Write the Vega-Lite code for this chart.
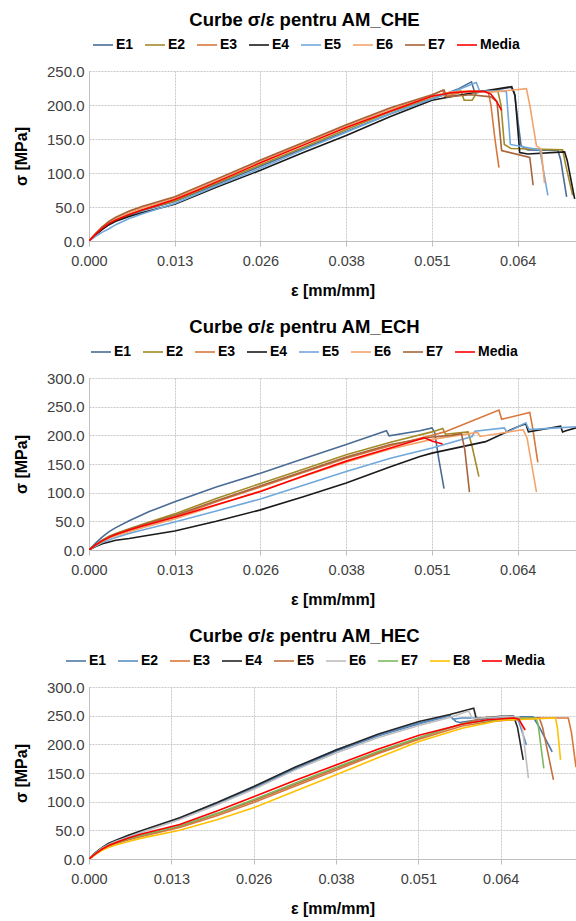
{
"$schema": "https://vega.github.io/schema/vega-lite/v6.json",
"padding": {"left": 13, "top": 10, "right": 0, "bottom": 0},
"spacing": 18,
"config": {
  "font": "Liberation Sans",
  "view": {"stroke": null},
  "axis": {"labelFont": "Liberation Sans", "labelFontSize": 14.5, "labelColor": "#404040", "titleFont": "Liberation Sans", "titleFontSize": 16, "titleFontWeight": "bold", "titleColor": "#000000", "gridColor": "#c8c8c8", "gridDash": [2, 1], "gridWidth": 1, "domainColor": "#bfbfbf", "tickColor": "#bfbfbf"},
  "axisX": {"tickSize": 5, "labelPadding": 8, "titlePadding": 15, "labelFlush": false},
  "axisY": {"ticks": false, "labelPadding": 5, "titlePadding": 17, "labelFontSize": 15},
  "legend": {"labelFont": "Liberation Sans", "labelFontSize": 14, "labelFontWeight": "bold", "labelColor": "#000000", "symbolType": "stroke", "symbolSize": 400, "symbolStrokeWidth": 2, "labelOffset": 2, "columnPadding": 7, "direction": "horizontal", "orient": "none", "title": null},
  "title": {"font": "Liberation Sans", "fontSize": 18.5, "fontWeight": "bold", "color": "#000000", "anchor": "middle", "frame": "group", "dx": -28, "offset": 5}
},
"resolve": {"scale": {"color": "independent", "x": "independent", "y": "independent", "strokeWidth": "independent"}, "legend": {"color": "independent"}},
"vconcat": [
{
  "title": {"text": "Curbe σ/ε pentru AM_CHE"},
  "width": 487, "height": 170,
  "data": {"values": [
    {"s":"E1","x":0,"y":0},{"s":"E1","x":0.001,"y":9},{"s":"E1","x":0.002,"y":18},{"s":"E1","x":0.003,"y":25},{"s":"E1","x":0.004,"y":30},{"s":"E1","x":0.006,"y":38},{"s":"E1","x":0.008,"y":45},{"s":"E1","x":0.0128,"y":58},{"s":"E1","x":0.019,"y":83},{"s":"E1","x":0.0256,"y":110},{"s":"E1","x":0.032,"y":136},{"s":"E1","x":0.0384,"y":161},{"s":"E1","x":0.045,"y":187},{"s":"E1","x":0.0512,"y":209},{"s":"E1","x":0.055,"y":223},{"s":"E1","x":0.0571,"y":234},{"s":"E1","x":0.0576,"y":218},{"s":"E1","x":0.06,"y":221},{"s":"E1","x":0.063,"y":226},{"s":"E1","x":0.0635,"y":218},{"s":"E1","x":0.0645,"y":140},{"s":"E1","x":0.0655,"y":134},{"s":"E1","x":0.07,"y":133},{"s":"E1","x":0.0704,"y":120},{"s":"E1","x":0.0713,"y":65},
    {"s":"E2","x":0,"y":0},{"s":"E2","x":0.001,"y":10},{"s":"E2","x":0.002,"y":19},{"s":"E2","x":0.003,"y":26},{"s":"E2","x":0.004,"y":31},{"s":"E2","x":0.006,"y":39},{"s":"E2","x":0.008,"y":46},{"s":"E2","x":0.0128,"y":59},{"s":"E2","x":0.019,"y":85},{"s":"E2","x":0.0256,"y":112},{"s":"E2","x":0.032,"y":138},{"s":"E2","x":0.0384,"y":164},{"s":"E2","x":0.045,"y":190},{"s":"E2","x":0.0512,"y":210},{"s":"E2","x":0.0555,"y":221},{"s":"E2","x":0.056,"y":207},{"s":"E2","x":0.0572,"y":207},{"s":"E2","x":0.058,"y":220},{"s":"E2","x":0.061,"y":222},{"s":"E2","x":0.0615,"y":200},{"s":"E2","x":0.062,"y":142},{"s":"E2","x":0.063,"y":136},{"s":"E2","x":0.0707,"y":134},{"s":"E2","x":0.0712,"y":110},{"s":"E2","x":0.0722,"y":67},
    {"s":"E3","x":0,"y":0},{"s":"E3","x":0.001,"y":11},{"s":"E3","x":0.002,"y":21},{"s":"E3","x":0.003,"y":28},{"s":"E3","x":0.004,"y":34},{"s":"E3","x":0.006,"y":43},{"s":"E3","x":0.008,"y":50},{"s":"E3","x":0.0128,"y":64},{"s":"E3","x":0.019,"y":90},{"s":"E3","x":0.0256,"y":118},{"s":"E3","x":0.032,"y":144},{"s":"E3","x":0.0384,"y":170},{"s":"E3","x":0.045,"y":195},{"s":"E3","x":0.0512,"y":214},{"s":"E3","x":0.0528,"y":222},{"s":"E3","x":0.0531,"y":212},{"s":"E3","x":0.056,"y":220},{"s":"E3","x":0.0596,"y":220},{"s":"E3","x":0.06,"y":200},{"s":"E3","x":0.0606,"y":150},{"s":"E3","x":0.0612,"y":108},
    {"s":"E4","x":0,"y":0},{"s":"E4","x":0.001,"y":9},{"s":"E4","x":0.002,"y":17},{"s":"E4","x":0.003,"y":24},{"s":"E4","x":0.004,"y":29},{"s":"E4","x":0.006,"y":36},{"s":"E4","x":0.008,"y":42},{"s":"E4","x":0.0128,"y":54},{"s":"E4","x":0.019,"y":79},{"s":"E4","x":0.0256,"y":104},{"s":"E4","x":0.032,"y":130},{"s":"E4","x":0.0384,"y":155},{"s":"E4","x":0.045,"y":183},{"s":"E4","x":0.0512,"y":207},{"s":"E4","x":0.055,"y":214},{"s":"E4","x":0.058,"y":219},{"s":"E4","x":0.0631,"y":227},{"s":"E4","x":0.0636,"y":214},{"s":"E4","x":0.0643,"y":130},{"s":"E4","x":0.0655,"y":128},{"s":"E4","x":0.071,"y":131},{"s":"E4","x":0.0714,"y":118},{"s":"E4","x":0.0725,"y":62},
    {"s":"E5","x":0,"y":0},{"s":"E5","x":0.001,"y":7},{"s":"E5","x":0.002,"y":13},{"s":"E5","x":0.003,"y":18},{"s":"E5","x":0.004,"y":24},{"s":"E5","x":0.006,"y":33},{"s":"E5","x":0.008,"y":40},{"s":"E5","x":0.0128,"y":55},{"s":"E5","x":0.019,"y":81},{"s":"E5","x":0.0256,"y":107},{"s":"E5","x":0.032,"y":134},{"s":"E5","x":0.0384,"y":160},{"s":"E5","x":0.045,"y":187},{"s":"E5","x":0.0512,"y":209},{"s":"E5","x":0.055,"y":222},{"s":"E5","x":0.0578,"y":233},{"s":"E5","x":0.0583,"y":221},{"s":"E5","x":0.0623,"y":220},{"s":"E5","x":0.0629,"y":142},{"s":"E5","x":0.0673,"y":134},{"s":"E5","x":0.0685,"y":67},
    {"s":"E6","x":0,"y":0},{"s":"E6","x":0.001,"y":11},{"s":"E6","x":0.002,"y":20},{"s":"E6","x":0.003,"y":28},{"s":"E6","x":0.004,"y":33},{"s":"E6","x":0.006,"y":42},{"s":"E6","x":0.008,"y":49},{"s":"E6","x":0.0128,"y":63},{"s":"E6","x":0.019,"y":89},{"s":"E6","x":0.0256,"y":117},{"s":"E6","x":0.032,"y":143},{"s":"E6","x":0.0384,"y":169},{"s":"E6","x":0.045,"y":194},{"s":"E6","x":0.0512,"y":213},{"s":"E6","x":0.054,"y":219},{"s":"E6","x":0.056,"y":220},{"s":"E6","x":0.06,"y":219},{"s":"E6","x":0.0653,"y":224},{"s":"E6","x":0.0658,"y":200},{"s":"E6","x":0.0668,"y":140},{"s":"E6","x":0.0675,"y":135},{"s":"E6","x":0.068,"y":85},
    {"s":"E7","x":0,"y":0},{"s":"E7","x":0.001,"y":11},{"s":"E7","x":0.002,"y":21},{"s":"E7","x":0.003,"y":29},{"s":"E7","x":0.004,"y":35},{"s":"E7","x":0.006,"y":44},{"s":"E7","x":0.008,"y":51},{"s":"E7","x":0.0128,"y":65},{"s":"E7","x":0.019,"y":91},{"s":"E7","x":0.0256,"y":119},{"s":"E7","x":0.032,"y":145},{"s":"E7","x":0.0384,"y":171},{"s":"E7","x":0.045,"y":196},{"s":"E7","x":0.0512,"y":215},{"s":"E7","x":0.053,"y":222},{"s":"E7","x":0.0534,"y":212},{"s":"E7","x":0.057,"y":215},{"s":"E7","x":0.06,"y":212},{"s":"E7","x":0.0609,"y":205},{"s":"E7","x":0.0616,"y":133},{"s":"E7","x":0.0658,"y":123},{"s":"E7","x":0.0663,"y":82},
    {"s":"Media","x":0,"y":0},{"s":"Media","x":0.001,"y":10},{"s":"Media","x":0.002,"y":19},{"s":"Media","x":0.003,"y":26},{"s":"Media","x":0.004,"y":31},{"s":"Media","x":0.006,"y":39},{"s":"Media","x":0.008,"y":46},{"s":"Media","x":0.01,"y":52},{"s":"Media","x":0.0128,"y":61},{"s":"Media","x":0.016,"y":74},{"s":"Media","x":0.02,"y":91},{"s":"Media","x":0.0256,"y":115},{"s":"Media","x":0.032,"y":141},{"s":"Media","x":0.0384,"y":167},{"s":"Media","x":0.045,"y":191},{"s":"Media","x":0.0512,"y":213},{"s":"Media","x":0.054,"y":218},{"s":"Media","x":0.057,"y":220},{"s":"Media","x":0.059,"y":220},{"s":"Media","x":0.06,"y":216},{"s":"Media","x":0.0608,"y":206},{"s":"Media","x":0.0616,"y":192}
  ]},
  "mark": {"type": "line", "clip": true, "interpolate": "linear"},
  "encoding": {
    "x": {"field": "x", "type": "quantitative", "title": "ε [mm/mm]", "scale": {"domain": [0, 0.0727], "nice": false, "zero": true}, "axis": {"values": [0, 0.0128, 0.0256, 0.0384, 0.0512, 0.064], "format": ".3f", "grid": true}},
    "y": {"field": "y", "type": "quantitative", "title": "σ [MPa]", "scale": {"domain": [0, 250], "nice": false}, "axis": {"values": [0, 50, 100, 150, 200, 250], "format": ".1f", "grid": true}},
    "color": {"field": "s", "type": "nominal", "scale": {"domain": ["E1","E2","E3","E4","E5","E6","E7","Media"], "range": ["#4A6C94","#A38B26","#D9773A","#1A1A1A","#70A8DC","#F4A46A","#A8643A","#FF0000"]}, "legend": {"legendX": 3, "legendY": -37}},
    "strokeWidth": {"field": "s", "type": "nominal", "scale": {"domain": ["E1","E2","E3","E4","E5","E6","E7","Media"], "range": [1.6,1.6,1.6,1.6,1.6,1.6,1.6,2.6]}, "legend": null}
  }
},
{
  "title": {"text": "Curbe σ/ε pentru AM_ECH"},
  "width": 487, "height": 172,
  "data": {"values": [
    {"s":"E1","x":0,"y":0},{"s":"E1","x":0.001,"y":12},{"s":"E1","x":0.002,"y":23},{"s":"E1","x":0.003,"y":32},{"s":"E1","x":0.004,"y":39},{"s":"E1","x":0.006,"y":51},{"s":"E1","x":0.009,"y":67},{"s":"E1","x":0.0128,"y":84},{"s":"E1","x":0.019,"y":110},{"s":"E1","x":0.0256,"y":134},{"s":"E1","x":0.032,"y":159},{"s":"E1","x":0.0384,"y":184},{"s":"E1","x":0.0444,"y":208},{"s":"E1","x":0.0448,"y":199},{"s":"E1","x":0.0494,"y":208},{"s":"E1","x":0.0512,"y":213},{"s":"E1","x":0.0516,"y":205},{"s":"E1","x":0.0522,"y":160},{"s":"E1","x":0.053,"y":107},
    {"s":"E2","x":0,"y":0},{"s":"E2","x":0.001,"y":9},{"s":"E2","x":0.002,"y":17},{"s":"E2","x":0.003,"y":24},{"s":"E2","x":0.004,"y":29},{"s":"E2","x":0.006,"y":37},{"s":"E2","x":0.008,"y":45},{"s":"E2","x":0.0128,"y":63},{"s":"E2","x":0.019,"y":90},{"s":"E2","x":0.0256,"y":116},{"s":"E2","x":0.032,"y":141},{"s":"E2","x":0.0384,"y":166},{"s":"E2","x":0.045,"y":188},{"s":"E2","x":0.0512,"y":206},{"s":"E2","x":0.0528,"y":212},{"s":"E2","x":0.0532,"y":202},{"s":"E2","x":0.0566,"y":206},{"s":"E2","x":0.0572,"y":180},{"s":"E2","x":0.0582,"y":128},
    {"s":"E3","x":0,"y":0},{"s":"E3","x":0.001,"y":8},{"s":"E3","x":0.002,"y":16},{"s":"E3","x":0.003,"y":22},{"s":"E3","x":0.004,"y":27},{"s":"E3","x":0.006,"y":34},{"s":"E3","x":0.008,"y":42},{"s":"E3","x":0.0128,"y":58},{"s":"E3","x":0.019,"y":84},{"s":"E3","x":0.0256,"y":110},{"s":"E3","x":0.032,"y":135},{"s":"E3","x":0.0384,"y":160},{"s":"E3","x":0.045,"y":182},{"s":"E3","x":0.0512,"y":200},{"s":"E3","x":0.0531,"y":206},{"s":"E3","x":0.0612,"y":244},{"s":"E3","x":0.0616,"y":228},{"s":"E3","x":0.0658,"y":240},{"s":"E3","x":0.0662,"y":215},{"s":"E3","x":0.067,"y":153},
    {"s":"E4","x":0,"y":0},{"s":"E4","x":0.001,"y":6},{"s":"E4","x":0.002,"y":11},{"s":"E4","x":0.003,"y":14},{"s":"E4","x":0.004,"y":17},{"s":"E4","x":0.006,"y":20},{"s":"E4","x":0.008,"y":24},{"s":"E4","x":0.0128,"y":33},{"s":"E4","x":0.019,"y":50},{"s":"E4","x":0.0256,"y":70},{"s":"E4","x":0.032,"y":93},{"s":"E4","x":0.0384,"y":117},{"s":"E4","x":0.045,"y":145},{"s":"E4","x":0.0494,"y":163},{"s":"E4","x":0.0512,"y":169},{"s":"E4","x":0.0592,"y":189},{"s":"E4","x":0.064,"y":215},{"s":"E4","x":0.0652,"y":220},{"s":"E4","x":0.0656,"y":206},{"s":"E4","x":0.067,"y":209},{"s":"E4","x":0.0704,"y":216},{"s":"E4","x":0.0707,"y":206},{"s":"E4","x":0.0712,"y":208},{"s":"E4","x":0.0727,"y":213},
    {"s":"E5","x":0,"y":0},{"s":"E5","x":0.001,"y":7},{"s":"E5","x":0.002,"y":13},{"s":"E5","x":0.003,"y":18},{"s":"E5","x":0.004,"y":22},{"s":"E5","x":0.006,"y":29},{"s":"E5","x":0.008,"y":35},{"s":"E5","x":0.0128,"y":49},{"s":"E5","x":0.019,"y":68},{"s":"E5","x":0.0256,"y":89},{"s":"E5","x":0.032,"y":113},{"s":"E5","x":0.0384,"y":137},{"s":"E5","x":0.045,"y":160},{"s":"E5","x":0.0512,"y":178},{"s":"E5","x":0.0572,"y":198},{"s":"E5","x":0.0576,"y":207},{"s":"E5","x":0.062,"y":213},{"s":"E5","x":0.0624,"y":205},{"s":"E5","x":0.0652,"y":222},{"s":"E5","x":0.0657,"y":210},{"s":"E5","x":0.07,"y":213},{"s":"E5","x":0.0727,"y":215},
    {"s":"E6","x":0,"y":0},{"s":"E6","x":0.001,"y":8},{"s":"E6","x":0.002,"y":15},{"s":"E6","x":0.003,"y":21},{"s":"E6","x":0.004,"y":25},{"s":"E6","x":0.006,"y":32},{"s":"E6","x":0.008,"y":39},{"s":"E6","x":0.0128,"y":54},{"s":"E6","x":0.019,"y":78},{"s":"E6","x":0.0256,"y":103},{"s":"E6","x":0.032,"y":128},{"s":"E6","x":0.0384,"y":153},{"s":"E6","x":0.045,"y":176},{"s":"E6","x":0.0512,"y":193},{"s":"E6","x":0.058,"y":205},{"s":"E6","x":0.0584,"y":198},{"s":"E6","x":0.0648,"y":210},{"s":"E6","x":0.0654,"y":195},{"s":"E6","x":0.0668,"y":101},
    {"s":"E7","x":0,"y":0},{"s":"E7","x":0.001,"y":9},{"s":"E7","x":0.002,"y":17},{"s":"E7","x":0.003,"y":23},{"s":"E7","x":0.004,"y":28},{"s":"E7","x":0.006,"y":36},{"s":"E7","x":0.008,"y":44},{"s":"E7","x":0.0128,"y":60},{"s":"E7","x":0.019,"y":86},{"s":"E7","x":0.0256,"y":112},{"s":"E7","x":0.032,"y":137},{"s":"E7","x":0.0384,"y":162},{"s":"E7","x":0.045,"y":184},{"s":"E7","x":0.0512,"y":197},{"s":"E7","x":0.054,"y":200},{"s":"E7","x":0.0556,"y":203},{"s":"E7","x":0.0561,"y":175},{"s":"E7","x":0.0568,"y":101},
    {"s":"Media","x":0,"y":0},{"s":"Media","x":0.001,"y":9},{"s":"Media","x":0.002,"y":16},{"s":"Media","x":0.003,"y":22},{"s":"Media","x":0.004,"y":27},{"s":"Media","x":0.006,"y":35},{"s":"Media","x":0.008,"y":42},{"s":"Media","x":0.0128,"y":57},{"s":"Media","x":0.019,"y":79},{"s":"Media","x":0.0256,"y":102},{"s":"Media","x":0.032,"y":129},{"s":"Media","x":0.0384,"y":155},{"s":"Media","x":0.045,"y":178},{"s":"Media","x":0.049,"y":192},{"s":"Media","x":0.05,"y":196},{"s":"Media","x":0.0512,"y":190},{"s":"Media","x":0.0528,"y":185}
  ]},
  "mark": {"type": "line", "clip": true, "interpolate": "linear"},
  "encoding": {
    "x": {"field": "x", "type": "quantitative", "title": "ε [mm/mm]", "scale": {"domain": [0, 0.0727], "nice": false, "zero": true}, "axis": {"values": [0, 0.0128, 0.0256, 0.0384, 0.0512, 0.064], "format": ".3f", "grid": true}},
    "y": {"field": "y", "type": "quantitative", "title": "σ [MPa]", "scale": {"domain": [0, 300], "nice": false}, "axis": {"values": [0, 50, 100, 150, 200, 250, 300], "format": ".1f", "grid": true}},
    "color": {"field": "s", "type": "nominal", "scale": {"domain": ["E1","E2","E3","E4","E5","E6","E7","Media"], "range": ["#4A6C94","#A38B26","#D9773A","#1A1A1A","#70A8DC","#F4A46A","#A8643A","#FF0000"]}, "legend": {"legendX": 1, "legendY": -37}},
    "strokeWidth": {"field": "s", "type": "nominal", "scale": {"domain": ["E1","E2","E3","E4","E5","E6","E7","Media"], "range": [1.6,1.6,1.6,1.6,1.6,1.6,1.6,2.6]}, "legend": null}
  }
},
{
  "title": {"text": "Curbe σ/ε pentru AM_HEC"},
  "width": 487, "height": 172,
  "data": {"values": [
    {"s":"E1","x":0,"y":0},{"s":"E1","x":0.001,"y":10},{"s":"E1","x":0.002,"y":19},{"s":"E1","x":0.003,"y":25},{"s":"E1","x":0.004,"y":30},{"s":"E1","x":0.006,"y":39},{"s":"E1","x":0.008,"y":47},{"s":"E1","x":0.0141,"y":70},{"s":"E1","x":0.02,"y":97},{"s":"E1","x":0.0257,"y":124},{"s":"E1","x":0.032,"y":157},{"s":"E1","x":0.0384,"y":188},{"s":"E1","x":0.045,"y":215},{"s":"E1","x":0.0513,"y":236},{"s":"E1","x":0.0561,"y":250},{"s":"E1","x":0.057,"y":240},{"s":"E1","x":0.0576,"y":238},{"s":"E1","x":0.06,"y":242},{"s":"E1","x":0.064,"y":248},{"s":"E1","x":0.069,"y":248},{"s":"E1","x":0.07,"y":230},{"s":"E1","x":0.072,"y":187},
    {"s":"E2","x":0,"y":0},{"s":"E2","x":0.001,"y":10},{"s":"E2","x":0.002,"y":19},{"s":"E2","x":0.003,"y":26},{"s":"E2","x":0.004,"y":31},{"s":"E2","x":0.006,"y":40},{"s":"E2","x":0.008,"y":48},{"s":"E2","x":0.0141,"y":71},{"s":"E2","x":0.02,"y":98},{"s":"E2","x":0.0257,"y":126},{"s":"E2","x":0.032,"y":159},{"s":"E2","x":0.0384,"y":190},{"s":"E2","x":0.045,"y":216},{"s":"E2","x":0.0513,"y":237},{"s":"E2","x":0.0561,"y":250},{"s":"E2","x":0.0566,"y":244},{"s":"E2","x":0.058,"y":246},{"s":"E2","x":0.062,"y":246},{"s":"E2","x":0.066,"y":249},{"s":"E2","x":0.0668,"y":240},{"s":"E2","x":0.068,"y":199},
    {"s":"E3","x":0,"y":0},{"s":"E3","x":0.001,"y":8},{"s":"E3","x":0.002,"y":16},{"s":"E3","x":0.003,"y":22},{"s":"E3","x":0.004,"y":26},{"s":"E3","x":0.006,"y":33},{"s":"E3","x":0.008,"y":39},{"s":"E3","x":0.0141,"y":55},{"s":"E3","x":0.02,"y":76},{"s":"E3","x":0.0257,"y":99},{"s":"E3","x":0.032,"y":127},{"s":"E3","x":0.0384,"y":155},{"s":"E3","x":0.045,"y":184},{"s":"E3","x":0.0513,"y":209},{"s":"E3","x":0.058,"y":232},{"s":"E3","x":0.064,"y":243},{"s":"E3","x":0.065,"y":246},{"s":"E3","x":0.0745,"y":246},{"s":"E3","x":0.075,"y":220},{"s":"E3","x":0.0757,"y":160},
    {"s":"E4","x":0,"y":0},{"s":"E4","x":0.001,"y":11},{"s":"E4","x":0.002,"y":20},{"s":"E4","x":0.003,"y":27},{"s":"E4","x":0.004,"y":32},{"s":"E4","x":0.006,"y":41},{"s":"E4","x":0.008,"y":49},{"s":"E4","x":0.0141,"y":72},{"s":"E4","x":0.02,"y":99},{"s":"E4","x":0.0257,"y":127},{"s":"E4","x":0.032,"y":160},{"s":"E4","x":0.0384,"y":190},{"s":"E4","x":0.045,"y":218},{"s":"E4","x":0.0513,"y":240},{"s":"E4","x":0.0561,"y":252},{"s":"E4","x":0.0598,"y":263},{"s":"E4","x":0.0602,"y":245},{"s":"E4","x":0.064,"y":249},{"s":"E4","x":0.066,"y":249},{"s":"E4","x":0.0666,"y":230},{"s":"E4","x":0.0675,"y":173},
    {"s":"E5","x":0,"y":0},{"s":"E5","x":0.001,"y":9},{"s":"E5","x":0.002,"y":17},{"s":"E5","x":0.003,"y":23},{"s":"E5","x":0.004,"y":27},{"s":"E5","x":0.006,"y":34},{"s":"E5","x":0.008,"y":40},{"s":"E5","x":0.0141,"y":57},{"s":"E5","x":0.02,"y":79},{"s":"E5","x":0.0257,"y":102},{"s":"E5","x":0.032,"y":130},{"s":"E5","x":0.0384,"y":158},{"s":"E5","x":0.045,"y":186},{"s":"E5","x":0.0513,"y":211},{"s":"E5","x":0.058,"y":236},{"s":"E5","x":0.062,"y":248},{"s":"E5","x":0.0624,"y":240},{"s":"E5","x":0.07,"y":246},{"s":"E5","x":0.0705,"y":230},{"s":"E5","x":0.0722,"y":138},
    {"s":"E6","x":0,"y":0},{"s":"E6","x":0.001,"y":10},{"s":"E6","x":0.002,"y":19},{"s":"E6","x":0.003,"y":25},{"s":"E6","x":0.004,"y":30},{"s":"E6","x":0.006,"y":38},{"s":"E6","x":0.008,"y":46},{"s":"E6","x":0.0141,"y":69},{"s":"E6","x":0.02,"y":95},{"s":"E6","x":0.0257,"y":122},{"s":"E6","x":0.032,"y":155},{"s":"E6","x":0.0384,"y":185},{"s":"E6","x":0.045,"y":212},{"s":"E6","x":0.0513,"y":233},{"s":"E6","x":0.0561,"y":247},{"s":"E6","x":0.059,"y":258},{"s":"E6","x":0.0596,"y":245},{"s":"E6","x":0.064,"y":248},{"s":"E6","x":0.0668,"y":248},{"s":"E6","x":0.0674,"y":225},{"s":"E6","x":0.0683,"y":141},
    {"s":"E7","x":0,"y":0},{"s":"E7","x":0.001,"y":9},{"s":"E7","x":0.002,"y":17},{"s":"E7","x":0.003,"y":23},{"s":"E7","x":0.004,"y":28},{"s":"E7","x":0.006,"y":35},{"s":"E7","x":0.008,"y":41},{"s":"E7","x":0.0141,"y":58},{"s":"E7","x":0.02,"y":80},{"s":"E7","x":0.0257,"y":104},{"s":"E7","x":0.032,"y":132},{"s":"E7","x":0.0384,"y":160},{"s":"E7","x":0.045,"y":188},{"s":"E7","x":0.0513,"y":212},{"s":"E7","x":0.058,"y":236},{"s":"E7","x":0.064,"y":244},{"s":"E7","x":0.0695,"y":246},{"s":"E7","x":0.0698,"y":235},{"s":"E7","x":0.0707,"y":158},
    {"s":"E8","x":0,"y":0},{"s":"E8","x":0.001,"y":8},{"s":"E8","x":0.002,"y":15},{"s":"E8","x":0.003,"y":20},{"s":"E8","x":0.004,"y":24},{"s":"E8","x":0.006,"y":30},{"s":"E8","x":0.008,"y":36},{"s":"E8","x":0.0141,"y":50},{"s":"E8","x":0.02,"y":69},{"s":"E8","x":0.0257,"y":90},{"s":"E8","x":0.032,"y":118},{"s":"E8","x":0.0384,"y":147},{"s":"E8","x":0.045,"y":177},{"s":"E8","x":0.0513,"y":205},{"s":"E8","x":0.058,"y":228},{"s":"E8","x":0.064,"y":242},{"s":"E8","x":0.0725,"y":246},{"s":"E8","x":0.0728,"y":230},{"s":"E8","x":0.0733,"y":173},
    {"s":"Media","x":0,"y":0},{"s":"Media","x":0.001,"y":9},{"s":"Media","x":0.002,"y":17},{"s":"Media","x":0.003,"y":23},{"s":"Media","x":0.004,"y":28},{"s":"Media","x":0.006,"y":36},{"s":"Media","x":0.008,"y":43},{"s":"Media","x":0.0141,"y":60},{"s":"Media","x":0.02,"y":84},{"s":"Media","x":0.0257,"y":109},{"s":"Media","x":0.032,"y":137},{"s":"Media","x":0.0384,"y":164},{"s":"Media","x":0.045,"y":192},{"s":"Media","x":0.0513,"y":216},{"s":"Media","x":0.058,"y":235},{"s":"Media","x":0.062,"y":243},{"s":"Media","x":0.066,"y":246},{"s":"Media","x":0.0668,"y":244},{"s":"Media","x":0.0678,"y":225}
  ]},
  "mark": {"type": "line", "clip": true, "interpolate": "linear"},
  "encoding": {
    "x": {"field": "x", "type": "quantitative", "title": "ε [mm/mm]", "scale": {"domain": [0, 0.0757], "nice": false, "zero": true}, "axis": {"values": [0, 0.0128, 0.0256, 0.0384, 0.0512, 0.064], "format": ".3f", "grid": true}},
    "y": {"field": "y", "type": "quantitative", "title": "σ [MPa]", "scale": {"domain": [0, 300], "nice": false}, "axis": {"values": [0, 50, 100, 150, 200, 250, 300], "format": ".1f", "grid": true}},
    "color": {"field": "s", "type": "nominal", "scale": {"domain": ["E1","E2","E3","E4","E5","E6","E7","E8","Media"], "range": ["#4E78A6","#5B8FC5","#D9783A","#262626","#C0703C","#BFBFBF","#7DB860","#FFC000","#FF0000"]}, "legend": {"legendX": -24, "legendY": -37}},
    "strokeWidth": {"field": "s", "type": "nominal", "scale": {"domain": ["E1","E2","E3","E4","E5","E6","E7","E8","Media"], "range": [1.6,1.6,1.6,1.6,1.6,1.6,1.6,1.6,2.6]}, "legend": null}
  }
}
]
}
